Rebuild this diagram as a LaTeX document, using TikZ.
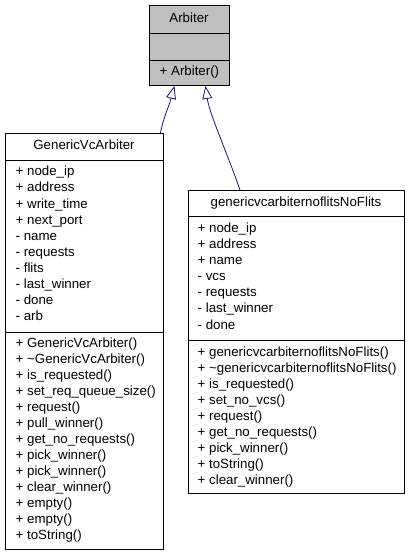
\documentclass[tikz,border=0pt]{standalone}
\usepackage{fontspec}
\setmainfont{Liberation Sans}
\usetikzlibrary{arrows.meta,calc}
\definecolor{boxgray}{HTML}{BFBFBF}
\definecolor{edgeblue}{HTML}{191970}
\begin{document}
\begin{tikzpicture}[x=1pt,y=-1pt,
  box/.style={draw=black, line width=0.9pt, anchor=north west, inner sep=0pt},
  txt/.style={font=\fontsize{13.3}{15}\selectfont, inner sep=0pt, text height=9.5pt, text depth=2.7pt, anchor=west},
  ttl/.style={txt, anchor=center},
  sepline/.style={draw=black, line width=0.9pt},
  inh/.style={draw=edgeblue, line width=0.8pt, -{Triangle[open, length=13pt, width=10pt]}}]
\useasboundingbox[fill=white] (0,0) rectangle (408,555);
% boxes
\node[box, fill=boxgray, minimum width=80pt, minimum height=80pt] (arb) at (149,5) {};
\node[box, minimum width=158pt, minimum height=416pt] (gv) at (5,133) {};
\node[box, minimum width=216pt, minimum height=303pt] (gn) at (188,190) {};
% separators
\draw[sepline] ($(arb.north west)+(0,28)$) -- ($(arb.north east)+(0,28)$);
\draw[sepline] ($(arb.north west)+(0,55)$) -- ($(arb.north east)+(0,55)$);
\draw[sepline] ($(gv.north west)+(0,27)$) -- ($(gv.north east)+(0,27)$);
\draw[sepline] ($(gv.north west)+(0,199)$) -- ($(gv.north east)+(0,199)$);
\draw[sepline] ($(gn.north west)+(0,26)$) -- ($(gn.north east)+(0,26)$);
\draw[sepline] ($(gn.north west)+(0,150)$) -- ($(gn.north east)+(0,150)$);
% Arbiter texts
\node[ttl] (arbt) at (189,19) {Arbiter};
\node[txt] (arbm) at (159.5,72.5) {+ Arbiter()};
% GenericVcArbiter texts
\node[ttl] (gvt) at (84,146.5) {GenericVcArbiter};
\foreach \t [count=\i from 0] in {+ node\_ip, + address, + write\_time, + next\_port, - name, - requests, - flits, - last\_winner, - done, - arb}
  \node[txt] (gva\i) at (15.5,172.5+16.05*\i) {\t};
\foreach \t [count=\i from 0] in {+ GenericVcArbiter(), + \textasciitilde GenericVcArbiter(), + is\_requested(), + set\_req\_queue\_size(), + request(), + pull\_winner(), + get\_no\_requests(), + pick\_winner(), + pick\_winner(), + clear\_winner(), + empty(), + empty(), + toString()}
  \node[txt] (gvm\i) at (15.5,344.5+15.95*\i) {\t};
% genericvcarbiternoflitsNoFlits texts
\node[ttl] (gnt) at (296,203) {genericvcarbiternoflitsNoFlits};
\foreach \t [count=\i from 0] in {+ node\_ip, + address, + name, - vcs, - requests, - last\_winner, - done}
  \node[txt] (gna\i) at (197.5,229+16.1*\i) {\t};
\foreach \t [count=\i from 0] in {+ genericvcarbiternoflitsNoFlits(), + \textasciitilde genericvcarbiternoflitsNoFlits(), + is\_requested(), + set\_no\_vcs(), + request(), + get\_no\_requests(), + pick\_winner(), + toString(), + clear\_winner()}
  \node[txt] (gnm\i) at (197.5,352.7+16*\i) {\t};
% inheritance connectors
\draw[inh] ($(gv.north east)+(-3.5,0)$) .. controls ($(gv.north east)+(0,-17)$) and ($(arb.south)+(-21,22)$) .. ($(arb.south)+(-15,0)$);
\draw[inh] ($(gn.north west)+(52,0)$) .. controls ($(gn.north west)+(40,-35)$) and ($(arb.south)+(20,28)$) .. ($(arb.south)+(16,0)$);
\end{tikzpicture}
\end{document}
